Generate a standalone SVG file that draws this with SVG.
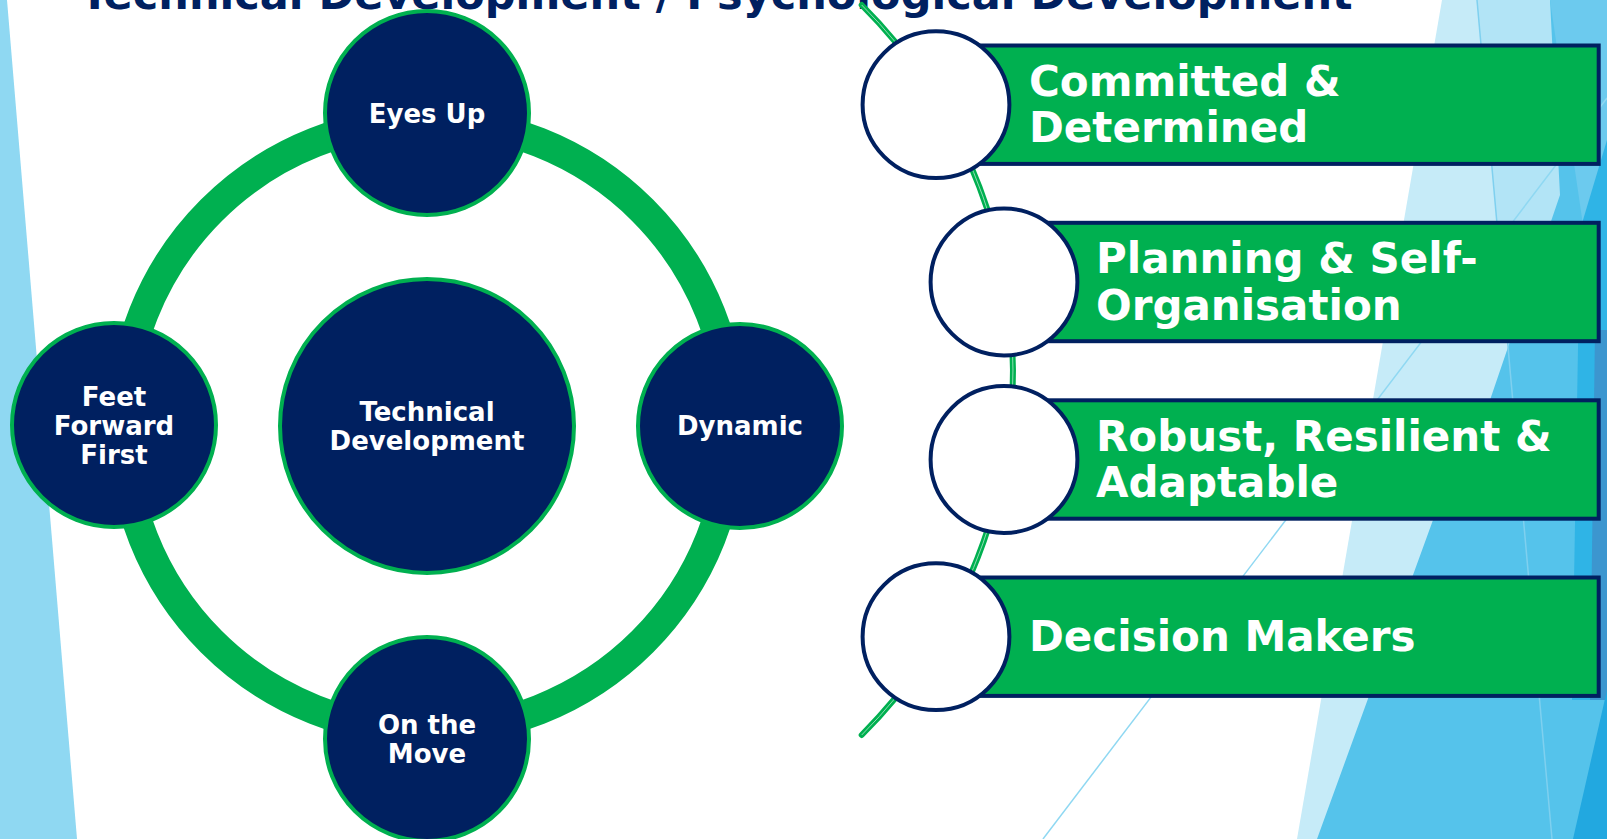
<svg xmlns="http://www.w3.org/2000/svg" width="1607" height="839" viewBox="0 0 1607 839">
  <style>
    .node circle { fill: #002060; stroke: #00B050; stroke-width: 4; }
    .node text { fill: #FFFFFF; font-family: "DejaVu Sans", Verdana, sans-serif; font-weight: bold; font-size: 26px; text-anchor: middle; }
    .item rect { fill: #00B050; stroke: #002060; stroke-width: 4; }
    .item circle { fill: #FFFFFF; stroke: #002060; stroke-width: 4; }
    .item text { fill: #FFFFFF; font-family: "DejaVu Sans", Verdana, sans-serif; font-weight: bold; font-size: 42px; }
    .title { fill: #002060; font-family: "DejaVu Sans", Verdana, sans-serif; font-weight: bold; font-size: 43px; }
  </style>
  <rect x="0" y="0" width="1607" height="839" fill="#FFFFFF"/>
  <g id="background">
    <polygon points="0,0 7,0 77,839 0,839" fill="#8FD8F2"/>
    <polygon points="1442,0 1607,0 1607,839 1297,839" fill="#C6EBF8"/>
    <polygon points="1477,0 1607,0 1607,839 1552,839" fill="#B2E4F6"/>
    <polygon points="1317,839 1433,520 1490,400 1560,195 1550,0 1607,0 1607,839" fill="#55C3EB"/>
    <polygon points="1550,0 1607,0 1607,150 1583,225" fill="#6CCAEE"/>
    <polygon points="1607,140 1580,230 1572,700 1607,700" fill="#2FB4E6"/>
    <polygon points="1607,330 1595,330 1590,700 1607,700" fill="#3C96CF"/>
    <polygon points="1607,690 1573,839 1607,839" fill="#22A8E0"/>
    <line x1="1477" y1="0" x2="1552" y2="839" stroke="#7FD0EF" stroke-width="1.5"/>
    <line x1="1043" y1="839" x2="1607" y2="98" stroke="#8FD8F2" stroke-width="1.5"/>
  </g>
  <text class="title" x="80" y="9">Technical Development / Psychological Development</text>
  <g id="connectors">
    <circle cx="427" cy="426" r="305" fill="none" stroke="#00B050" stroke-width="30"/>
    <path d="M 861.7 5 A 516 516 0 0 1 861.7 735" fill="none" stroke="#00B050" stroke-width="6" stroke-linecap="round"/>
    <path d="M 861.7 5 A 516 516 0 0 1 861.7 735" fill="none" stroke="#8EDDB2" stroke-width="1"/>
  </g>
  <g id="node-center" class="node">
    <circle cx="427" cy="426" r="147"/>
    <text x="427" y="421">Technical</text>
    <text x="427" y="450">Development</text>
  </g>
  <g id="node-eyes-up" class="node">
    <circle cx="427" cy="113" r="102"/>
    <text x="427" y="123">Eyes Up</text>
  </g>
  <g id="node-feet-forward-first" class="node">
    <circle cx="114" cy="425" r="102"/>
    <text x="114" y="406">Feet</text>
    <text x="114" y="435">Forward</text>
    <text x="114" y="463.5">First</text>
  </g>
  <g id="node-dynamic" class="node">
    <circle cx="740" cy="426" r="102"/>
    <text x="740" y="435">Dynamic</text>
  </g>
  <g id="node-on-the-move" class="node">
    <circle cx="427" cy="739" r="102"/>
    <text x="427" y="734">On the</text>
    <text x="427" y="763">Move</text>
  </g>
  <g id="item-committed" class="item">
    <rect x="936" y="45.5" width="662.7" height="118.4"/>
    <circle cx="936" cy="104.7" r="73.4"/>
    <text x="1029" y="95.7">Committed &amp;</text>
    <text x="1029" y="142.3">Determined</text>
  </g>
  <g id="item-planning" class="item">
    <rect x="1004" y="222.8" width="594.7" height="118.4"/>
    <circle cx="1004" cy="282" r="73.4"/>
    <text x="1096" y="273.3">Planning &amp; Self-</text>
    <text x="1096" y="320">Organisation</text>
  </g>
  <g id="item-robust" class="item">
    <rect x="1004" y="400.3" width="594.7" height="118.4"/>
    <circle cx="1004" cy="459.5" r="73.4"/>
    <text x="1096" y="451">Robust, Resilient &amp;</text>
    <text x="1096" y="496.7">Adaptable</text>
  </g>
  <g id="item-decision" class="item">
    <rect x="936" y="577.5" width="662.7" height="118.4"/>
    <circle cx="936" cy="636.7" r="73.4"/>
    <text x="1029" y="650.7">Decision Makers</text>
  </g>
</svg>
